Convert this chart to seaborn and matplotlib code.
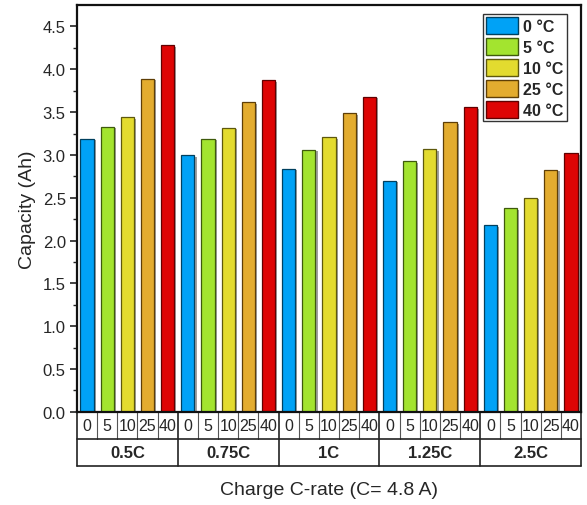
import numpy as np
import pandas as pd
import matplotlib
matplotlib.use("Agg")
import matplotlib.pyplot as plt
import matplotlib.patheffects as pe
from matplotlib.patches import Patch
import seaborn as sns

# data
rates = ["0.5C", "0.75C", "1C", "1.25C", "2.5C"]
temps = ["0", "5", "10", "25", "40"]
cap_0 = [3.19, 3.00, 2.84, 2.70, 2.18]
cap_5 = [3.33, 3.19, 3.06, 2.93, 2.38]
cap_10 = [3.44, 3.32, 3.21, 3.07, 2.50]
cap_25 = [3.89, 3.62, 3.49, 3.38, 2.83]
cap_40 = [4.28, 3.87, 3.68, 3.56, 3.02]
y_ticks = [0.0, 0.5, 1.0, 1.5, 2.0, 2.5, 3.0, 3.5, 4.0, 4.5]

colors = ["#00A2F6", "#A3E42F", "#E3DB2F", "#E3AC2F", "#DE0404"]
edges = ["#00405F", "#3E5A0C", "#5E580C", "#5E3E06", "#600000"]

df = pd.DataFrame({
    "rate": np.repeat(rates, len(temps)),
    "temp": temps * len(rates),
    "cap": np.array([cap_0, cap_5, cap_10, cap_25, cap_40]).T.flatten(),
})

sns.set_style("ticks")
plt.rcParams["font.family"] = ["Liberation Sans", "DejaVu Sans"]

fig = plt.figure(figsize=(5.87, 5.06), dpi=100)
ax = fig.add_axes([0.131, 0.184, 0.859, 0.804])

sns.barplot(data=df, x="rate", y="cap", hue="temp", hue_order=temps,
            palette=colors, saturation=1, width=1.0, gap=0.35, legend=False,
            ax=ax, err_kws={"linewidth": 0})

# edges and drop shadow like the Origin bars
for i, cont in enumerate(ax.containers):
    for bar in cont:
        bar.set_edgecolor(edges[i])
        bar.set_linewidth(0.9)
        bar.set_path_effects([pe.SimplePatchShadow(offset=(1.6, -1.2),
                                                   shadow_rgbFace="#777777", alpha=0.7),
                              pe.Normal()])

ax.set_xlim(-0.5, 4.5)
ax.set_ylim(0, 4.75)
ax.set_yticks(y_ticks)
ax.set_yticklabels([f"{t:.1f}" for t in y_ticks], fontsize=12)
ax.set_yticks(np.arange(0.25, 4.75, 0.5), minor=True)
ax.tick_params(axis="y", which="major", direction="out", length=5, width=1.2,
               color="#222222", pad=3)
ax.tick_params(axis="y", which="minor", direction="out", length=3, width=1.0, color="#222222")
ax.tick_params(axis="x", bottom=False, labelbottom=False)
ax.set_xlabel("")
ax.set_ylabel("Capacity (Ah)", fontsize=14, labelpad=5)
for s in ax.spines.values():
    s.set_visible(True)
    s.set_linewidth(1.6)
    s.set_color("#111111")

# category table below the axis
trans = ax.get_xaxis_transform()
row_h = 27 / (0.804 * 506)
y0, y1, y2 = 0, -row_h, -2 * row_h
step = 1.0 / len(temps)
for g, rate in enumerate(rates):
    for k, t in enumerate(temps):
        xc = g - 0.5 + step * (k + 0.5)
        ax.text(xc, (y0 + y1) / 2, t, transform=trans, ha="center", va="center",
                fontsize=11.5, clip_on=False)
        if k > 0:
            xl = g - 0.5 + step * k
            ax.plot([xl, xl], [y0, y1], transform=trans, color="#555555", lw=0.8,
                    clip_on=False)
    ax.text(g, (y1 + y2) / 2, rate, transform=trans, ha="center", va="center",
            fontsize=12, fontweight="bold", clip_on=False)
for xb in np.arange(-0.5, 5.0, 1.0):
    ax.plot([xb, xb], [y0, y2], transform=trans, color="#222222", lw=1.2, clip_on=False)
for yb in [y1, y2]:
    ax.plot([-0.5, 4.5], [yb, yb], transform=trans, color="#222222", lw=1.2, clip_on=False)

fig.text(0.5 * (0.131 + 0.990), 1 - 491 / 506, "Charge C-rate (C= 4.8 A)",
         ha="center", va="center", fontsize=14)

handles = [Patch(facecolor=c, edgecolor=e, linewidth=1.0) for c, e in zip(colors, edges)]
leg = ax.legend(handles, [f"{t} \u00b0C" for t in temps], loc="upper right",
                bbox_to_anchor=(0.972, 0.978), frameon=True, fancybox=False,
                edgecolor="#333333", framealpha=1, prop={"weight": "bold", "size": 11.5},
                handlelength=2.0, handleheight=1.2, handletextpad=0.35,
                labelspacing=0.28, borderpad=0.2, borderaxespad=0)
leg.get_frame().set_linewidth(1.0)

fig.savefig("out.png", dpi=100)
